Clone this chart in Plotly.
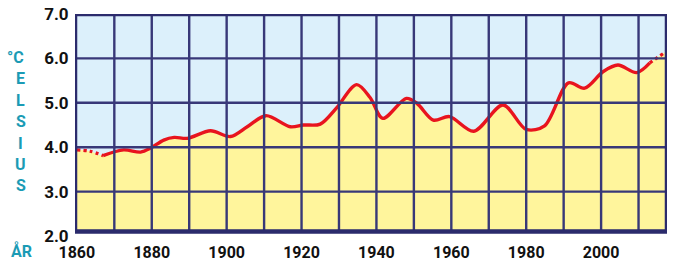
import plotly.graph_objects as go

# --- data ---
YEARS = [1860, 1863.5, 1867, 1872.5, 1877, 1879.7, 1883.2, 1886, 1889.5, 1895.7,
         1901, 1905.5, 1910.5, 1917, 1920.5, 1925, 1929.3, 1934.7, 1938.3, 1941.7,
         1948, 1950.8, 1955.2, 1959.5, 1966, 1973.8, 1980, 1984.9, 1991.3, 1995.6,
         2000.5, 2004.5, 2009.5, 2013, 2017.3]
TEMPS = [3.94, 3.91, 3.81, 3.94, 3.89, 3.98, 4.16, 4.22, 4.20, 4.37,
         4.24, 4.46, 4.71, 4.46, 4.50, 4.52, 4.88, 5.41, 5.12, 4.65,
         5.10, 4.99, 4.61, 4.69, 4.36, 4.95, 4.40, 4.48, 5.45, 5.33,
         5.70, 5.85, 5.68, 5.90, 6.15]
X_TICKS = [1860, 1880, 1900, 1920, 1940, 1960, 1980, 2000]
X_GRID = [1870, 1880, 1890, 1900, 1910, 1920, 1930, 1940, 1950, 1960, 1970, 1980, 1990, 2000, 2010]
Y_TICKS = [2.0, 3.0, 4.0, 5.0, 6.0, 7.0]
Y_LABELS = ["2.0", "3.0", "4.0", "5.0", "6.0", "7.0"]
Y_GRID = [3.0, 4.0, 5.0, 6.0]
UNIT_LETTERS = ["°C", "E", "L", "S", "I", "U", "S"]
YEAR_LABEL = "ÅR"

X_MIN, X_MAX = 1859.5, 2017.6
Y_MIN, Y_MAX = 2.0, 7.0
FRAME_BOTTOM = 2.1
DOT_START_END = 2   # index where solid line starts
DOT_END_START = 33  # index where dotted end begins

NAVY = "#2b2b6c"
GRID = "#383878"
BLUE = "#dcf0fb"
YELLOW = "#fff59c"
RED = "#e8141e"
TEAL = "#1b9bb5"
FONT = "Roboto"

fig = go.Figure()

fig.add_trace(go.Scatter(x=[YEARS[0], X_MAX], y=[FRAME_BOTTOM, FRAME_BOTTOM],
                         mode="lines", line=dict(width=0), hoverinfo="skip",
                         showlegend=False))
fig.add_trace(go.Scatter(x=YEARS + [X_MAX], y=TEMPS + [TEMPS[-1]], mode="lines",
                         line=dict(width=0, shape="spline", smoothing=0.9),
                         fill="tonexty", fillcolor=YELLOW, hoverinfo="skip",
                         showlegend=False))

for gx in X_GRID:
    fig.add_shape(type="line", x0=gx, x1=gx, y0=FRAME_BOTTOM, y1=Y_MAX,
                  xref="x", yref="y", line=dict(color=GRID, width=2.4), layer="above")
for gy in Y_GRID:
    fig.add_shape(type="line", x0=X_MIN, x1=X_MAX, y0=gy, y1=gy,
                  xref="x", yref="y", line=dict(color=GRID, width=2.4), layer="above")

fig.add_trace(go.Scatter(x=YEARS[:DOT_START_END + 1], y=TEMPS[:DOT_START_END + 1],
                         mode="lines", line=dict(color=RED, width=3.2, dash="dot",
                                                 shape="spline", smoothing=0.9),
                         showlegend=False))
fig.add_trace(go.Scatter(x=YEARS[DOT_START_END:DOT_END_START + 1],
                         y=TEMPS[DOT_START_END:DOT_END_START + 1],
                         mode="lines", line=dict(color=RED, width=3.4,
                                                 shape="spline", smoothing=0.9),
                         showlegend=False))
fig.add_trace(go.Scatter(x=YEARS[DOT_END_START:], y=TEMPS[DOT_END_START:],
                         mode="lines", line=dict(color=RED, width=3.2, dash="dot",
                                                 shape="spline", smoothing=0.9),
                         showlegend=False))

fig.add_shape(type="rect", x0=X_MIN, x1=X_MAX, y0=FRAME_BOTTOM, y1=Y_MAX,
              xref="x", yref="y", fillcolor=BLUE, line=dict(width=0), layer="below")
fig.add_shape(type="rect", x0=X_MIN, x1=X_MAX, y0=FRAME_BOTTOM, y1=Y_MAX,
              xref="x", yref="y", line=dict(color=NAVY, width=4.5), layer="above")

PLOT_L, PLOT_R, PLOT_T, PLOT_B = 75, 667, 14, 236
pw, ph = PLOT_R - PLOT_L, PLOT_B - PLOT_T
for i, letter in enumerate(UNIT_LETTERS):
    ypx = 57.5 + i * 21.4
    fig.add_annotation(text=letter, x=(20.7 - PLOT_L) / pw, y=(PLOT_B - ypx) / ph,
                       xref="paper", yref="paper", showarrow=False,
                       xanchor="right" if i == 0 else "center", yanchor="middle",
                       xshift=5 if i == 0 else 0,
                       font=dict(family=FONT, size=16, color=TEAL, weight="bold"))
fig.add_annotation(text=YEAR_LABEL, x=(21 - PLOT_L) / pw, y=(PLOT_B - 251) / ph,
                   xref="paper", yref="paper", showarrow=False,
                   xanchor="center", yanchor="middle",
                   font=dict(family=FONT, size=16, color=TEAL, weight="bold"))

fig.update_xaxes(range=[X_MIN, X_MAX], tickvals=X_TICKS, showgrid=False,
                 zeroline=False, showline=False, ticks="outside", ticklen=2,
                 tickcolor="rgba(0,0,0,0)", automargin=False,
                 tickfont=dict(family=FONT, size=16, color="#111111", weight="bold"))
fig.update_yaxes(range=[Y_MIN, Y_MAX], tickvals=Y_TICKS, ticktext=Y_LABELS,
                 showgrid=False, zeroline=False, showline=False, ticks="outside",
                 ticklen=2, tickcolor="rgba(0,0,0,0)", automargin=False,
                 tickfont=dict(family=FONT, size=17, color="#111111", weight="bold"))

fig.update_layout(width=675, height=262,
                  margin=dict(l=PLOT_L, r=675 - PLOT_R, t=PLOT_T, b=262 - PLOT_B),
                  paper_bgcolor="white", plot_bgcolor="white", showlegend=False)

fig.write_html("out.html", config={"displayModeBar": False},
               post_script="document.body.style.margin='0';document.body.style.padding='0';")
